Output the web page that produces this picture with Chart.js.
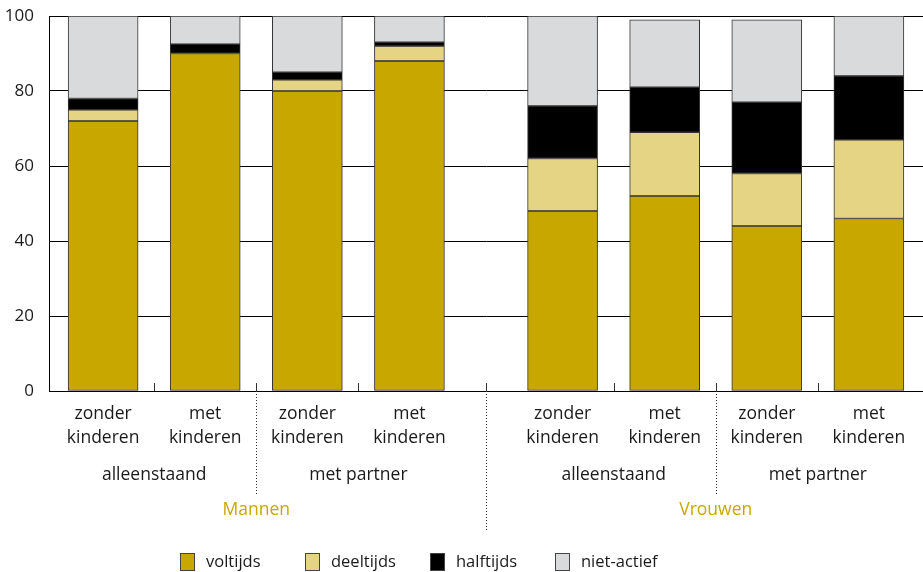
<!DOCTYPE html>
<html>
<head>
<meta charset="utf-8">
<script src="https://cdn.jsdelivr.net/npm/chart.js@4.4.1/dist/chart.umd.min.js"></script>
<style>
  html, body { margin: 0; padding: 0; background: #fff; }
</style>
</head>
<body>
<canvas id="chart" width="923" height="572"></canvas>
<script>
// categories
const genders = ['Mannen', 'Vrouwen'];
const households = ['alleenstaand', 'met partner'];
const kids = [['zonder', 'kinderen'], ['met', 'kinderen']];
const yTicks = [0, 20, 40, 60, 80, 100];

// share per category (%)
const voltijds   = [72, 90,  80, 88, 48, 52, 44, 46];
const deeltijds  = [3,  0,   3,  4,  14, 17, 14, 21];
const halftijds  = [3,  2.5, 2,  1,  14, 12, 19, 17];
const nietActief = [22, 7.5, 15, 7,  24, 18, 22, 16];

const seriesNames = ['voltijds', 'deeltijds', 'halftijds', 'niet-actief'];
const seriesColors = ['#c8a800', '#e5d483', '#000000', '#d9dadc'];
const gold = '#c8a800';
const FONT = '"Open Sans", sans-serif';

// position on x: one unit per bar, half a unit extra between men and women
const xPos = [];
genders.forEach((g, gi) => {
    households.forEach((h, hi) => {
        kids.forEach((k, ki) => {
            const idx = gi * 4 + hi * 2 + ki;
            xPos.push(idx + gi * 0.5);
        });
    });
});

function toPoints(values) {
    return values.map((v, i) => ({ x: xPos[i], y: v }));
}

const annotations = {
    id: 'annotations',
    afterDraw(chart) {
        const ctx = chart.ctx;
        const xs = chart.scales.x;
        const area = chart.chartArea;
        const base = area.bottom;
        const px = v => xs.getPixelForValue(v);
        ctx.save();
        ctx.textAlign = 'center';
        ctx.textBaseline = 'middle';

        // labels under each bar
        ctx.fillStyle = '#1a1a1a';
        ctx.font = '17.5px ' + FONT;
        xPos.forEach((x, i) => {
            const lines = kids[i % 2];
            ctx.fillText(lines[0], px(x), base + 23);
            ctx.fillText(lines[1], px(x), base + 47);
        });
        // household labels
        genders.forEach((g, gi) => {
            households.forEach((h, hi) => {
                const a = xPos[gi * 4 + hi * 2], b = xPos[gi * 4 + hi * 2 + 1];
                ctx.fillText(h, px((a + b) / 2), base + 84);
            });
        });
        // gender labels
        ctx.fillStyle = gold;
        genders.forEach((g, gi) => {
            const a = xPos[gi * 4], b = xPos[gi * 4 + 3];
            ctx.fillText(g, px((a + b) / 2), base + 119);
        });

        // tick marks and dotted separators between bars
        ctx.strokeStyle = '#333';
        ctx.lineWidth = 1;
        for (let i = 0; i < xPos.length - 1; i++) {
            const x = Math.round(px((xPos[i] + xPos[i + 1]) / 2)) + 0.5;
            ctx.setLineDash([]);
            ctx.beginPath();
            ctx.moveTo(x, base - 8);
            ctx.lineTo(x, base);
            ctx.stroke();
            let depth = 0;
            if (i === 3) depth = 141;
            else if (i % 2 === 1) depth = 104;
            if (depth) {
                ctx.setLineDash([1, 2]);
                ctx.beginPath();
                ctx.moveTo(x, base);
                ctx.lineTo(x, base + depth);
                ctx.stroke();
            }
        }
        ctx.setLineDash([]);

        // legend
        ctx.font = '16.5px ' + FONT;
        ctx.textAlign = 'left';
        seriesNames.forEach((name, i) => {
            const x = 180 + i * 125;
            ctx.fillStyle = seriesColors[i];
            ctx.fillRect(x, 553, 15, 18);
            ctx.strokeStyle = '#444';
            ctx.strokeRect(x + 0.5, 553.5, 14, 17);
            ctx.fillStyle = '#1a1a1a';
            ctx.fillText(name, x + 26, 562);
        });
        ctx.restore();
    }
};

const datasets = [voltijds, deeltijds, halftijds, nietActief].map((vals, i) => ({
    label: seriesNames[i],
    data: toPoints(vals),
    backgroundColor: seriesColors[i],
    borderColor: '#333',
    borderWidth: 1,
    borderSkipped: false,
    barThickness: 70
}));

new Chart(document.getElementById('chart').getContext('2d'), {
    type: 'bar',
    data: { datasets: datasets },
    options: {
        responsive: false,
        animation: false,
        layout: { padding: { top: 16, bottom: 181, left: 0, right: 0 } },
        plugins: {
            legend: { display: false },
            tooltip: { enabled: false }
        },
        scales: {
            x: {
                type: 'linear',
                stacked: true,
                display: false,
                offset: false,
                min: -0.53,
                max: 8.03
            },
            y: {
                stacked: true,
                min: 0,
                max: 100,
                afterBuildTicks(scale) {
                    scale.ticks = yTicks.map(v => ({ value: v }));
                },
                afterFit(scale) {
                    scale.width = 49;
                    scale.paddingTop = 0;
                    scale.paddingBottom = 0;
                },
                grid: { color: '#000', lineWidth: 1, drawTicks: false },
                border: { display: true, color: '#000', width: 1 },
                ticks: {
                    padding: 15,
                    color: '#1a1a1a',
                    font: { family: FONT, size: 17 }
                }
            }
        }
    },
    plugins: [annotations]
});
</script>
</body>
</html>
